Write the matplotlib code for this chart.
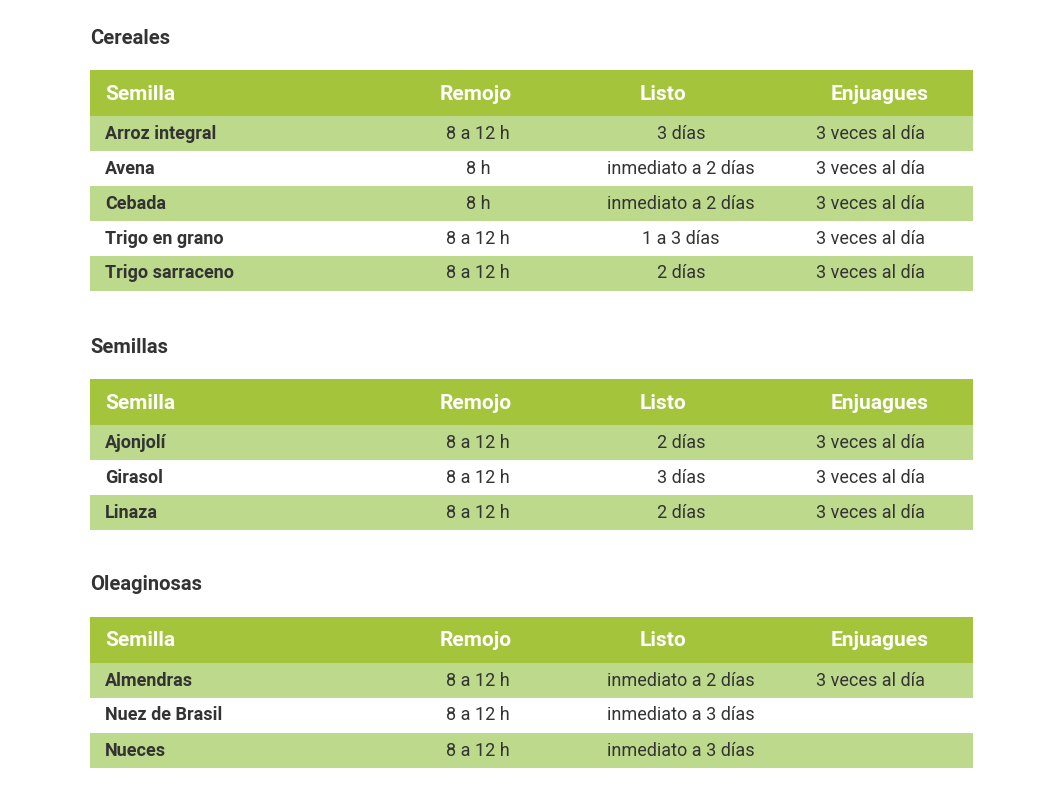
import matplotlib.pyplot as plt
from matplotlib.patches import Rectangle

plt.rcParams['font.family'] = ['Roboto', 'DejaVu Sans']

headers = ["Semilla", "Remojo", "Listo", "Enjuagues"]

titles = ["Cereales", "Semillas", "Oleaginosas"]

cereales = [
    ["Arroz integral", "8 a 12 h", "3 días", "3 veces al día"],
    ["Avena", "8 h", "inmediato a 2 días", "3 veces al día"],
    ["Cebada", "8 h", "inmediato a 2 días", "3 veces al día"],
    ["Trigo en grano", "8 a 12 h", "1 a 3 días", "3 veces al día"],
    ["Trigo sarraceno", "8 a 12 h", "2 días", "3 veces al día"],
]
semillas = [
    ["Ajonjolí", "8 a 12 h", "2 días", "3 veces al día"],
    ["Girasol", "8 a 12 h", "3 días", "3 veces al día"],
    ["Linaza", "8 a 12 h", "2 días", "3 veces al día"],
]
oleaginosas = [
    ["Almendras", "8 a 12 h", "inmediato a 2 días", "3 veces al día"],
    ["Nuez de Brasil", "8 a 12 h", "inmediato a 3 días", ""],
    ["Nueces", "8 a 12 h", "inmediato a 3 días", ""],
]
tables = [cereales, semillas, oleaginosas]

# layout in pixels
title_y = [38, 347, 585]
header_top = [70, 379, 617]
header_h = 46
row_h = 35
x0, x1 = 90, 973
col_x = [105, 478, 681, 870]
head_x = [105, 476, 663, 880]
head_ha = ["left", "center", "center", "center"]

dark = "#a3c43b"
light = "#bdd98c"
txt = "#333333"

fig = plt.figure(figsize=(10.63, 7.97), dpi=100)
ax = fig.add_axes([0, 0, 1, 1])
ax.set_xlim(0, 1063)
ax.set_ylim(797, 0)
ax.axis("off")

for title, ty, top, rows in zip(titles, title_y, header_top, tables):
    ax.text(x0, ty, title, fontsize=14.5, fontweight="bold", color=txt, va="center")
    ax.add_patch(Rectangle((x0, top), x1 - x0, header_h, color=dark, lw=0))
    for h, hx, ha in zip(headers, head_x, head_ha):
        ax.text(hx, top + header_h / 2 + 1, h, fontsize=15, fontweight="bold",
                color="white", va="center", ha=ha)
    for i, row in enumerate(rows):
        y = top + header_h + i * row_h
        if i % 2 == 0:
            ax.add_patch(Rectangle((x0, y), x1 - x0, row_h, color=light, lw=0))
        for j, val in enumerate(row):
            ax.text(col_x[j], y + row_h / 2, val, fontsize=13,
                    fontweight="bold" if j == 0 else "normal", color=txt,
                    va="center", ha="left" if j == 0 else "center")

fig.savefig("out.png", dpi=100)
